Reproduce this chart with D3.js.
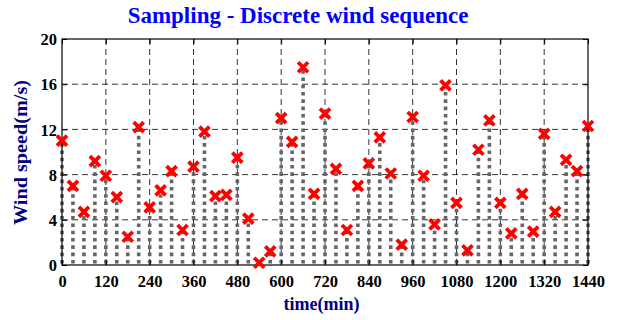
<!DOCTYPE html>
<html><head><meta charset="utf-8">
<script src="https://cdn.jsdelivr.net/npm/d3@7"></script>
<style>body{margin:0;background:#fff}</style>
</head><body>
<svg id="c" width="618" height="320"></svg>
<script>
const times = d3.range(0, 1441, 30);
const windSpeed = [11.0,7.0,4.7,9.2,7.9,6.0,2.5,12.2,5.1,6.6,8.3,3.1,8.7,11.8,6.1,6.2,
  9.5,4.1,0.2,1.2,13.0,10.9,17.5,6.3,13.4,8.5,3.1,7.0,9.0,11.3,8.1,1.8,13.1,7.9,3.6,
  15.9,5.5,1.3,10.2,12.8,5.5,2.8,6.3,2.95,11.6,4.7,9.3,8.3,12.3];
const xTicks = d3.range(0, 1441, 120);
const yTicks = [0,4,8,12,16,20];

const svg = d3.select("#c");
const m = {l:62, r:588, t:39, b:265};
const x = d3.scaleLinear().domain([0,1440]).range([m.l, m.r]);
const y = d3.scaleLinear().domain([0,20]).range([m.b, m.t]);
const serif = "'Liberation Serif','Times New Roman',serif";

// grid
const g = svg.append("g");
g.selectAll(".gx").data(xTicks.slice(1,-1)).join("line")
  .attr("x1",d=>x(d)).attr("x2",d=>x(d)).attr("y1",m.t).attr("y2",m.b)
  .attr("stroke","#000").attr("stroke-width",0.8).attr("stroke-dasharray","6,4");
g.selectAll(".gy").data(yTicks.slice(1,-1)).join("line")
  .attr("x1",m.l).attr("x2",m.r).attr("y1",d=>y(d)).attr("y2",d=>y(d))
  .attr("stroke","#000").attr("stroke-width",0.8).attr("stroke-dasharray","6,4");

// stems
const data = times.map((t,i)=>({t, v:windSpeed[i]}));
svg.append("g").selectAll("line").data(data).join("line")
  .attr("x1",d=>x(d.t)).attr("x2",d=>x(d.t))
  .attr("y1",y(0)-1.5).attr("y2",d=>y(d.v))
  .attr("stroke","#666").attr("stroke-width",3.6).attr("stroke-dasharray","3.6,3.7");

// frame
svg.append("rect").attr("x",m.l).attr("y",m.t).attr("width",m.r-m.l).attr("height",m.b-m.t)
  .attr("fill","none").attr("stroke","#000").attr("stroke-width",1.2);

// axes with inner ticks
const fmt = d3.format("d");
const ax = d3.axisBottom(x).tickValues(xTicks).tickFormat(fmt).tickSize(-5).tickPadding(10).tickSizeOuter(0);
const axg = svg.append("g").attr("transform",`translate(0,${m.b})`).call(ax);
const axt = svg.append("g").attr("transform",`translate(0,${m.t})`).call(d3.axisTop(x).tickValues(xTicks).tickSize(-5).tickFormat("").tickSizeOuter(0));
const ay = d3.axisLeft(y).tickValues(yTicks).tickFormat(fmt).tickSize(-5).tickPadding(5).tickSizeOuter(0);
const ayg = svg.append("g").attr("transform",`translate(${m.l},0)`).call(ay);
const ayr = svg.append("g").attr("transform",`translate(${m.r},0)`).call(d3.axisRight(y).tickValues(yTicks).tickSize(-5).tickFormat("").tickSizeOuter(0));
[axg,axt,ayg,ayr].forEach(a=>{a.select(".domain").remove(); a.selectAll("line").attr("stroke","#000");});
[axg,ayg].forEach(a=>a.selectAll("text").attr("font-family",serif).attr("font-weight","bold").attr("font-size",16.5).attr("fill","#000"));
ayg.selectAll("text").attr("dy","0.35em");

// markers
const s = 5;
const mk = svg.append("g").selectAll("g").data(data).join("g")
  .attr("transform",d=>`translate(${x(d.t)},${y(d.v)})`);
mk.append("path").attr("d",`M${-s},${-s}L${s},${s}M${-s},${s}L${s},${-s}`)
  .attr("stroke","#ff0000").attr("stroke-width",3.8).attr("fill","none");

// title / labels
svg.append("text").attr("x",298).attr("y",23).attr("text-anchor","middle")
  .attr("font-family",serif).attr("font-weight","bold").attr("font-size",23).attr("fill","#0000ff")
  .text("Sampling - Discrete wind sequence");
svg.append("text").attr("x",321.5).attr("y",310).attr("text-anchor","middle")
  .attr("font-family",serif).attr("font-weight","bold").attr("font-size",18).attr("fill","#000080")
  .text("time(min)");
svg.append("text").attr("transform","translate(27,152.5) rotate(-90)").attr("text-anchor","middle")
  .attr("font-family",serif).attr("font-weight","bold").attr("font-size",18).attr("fill","#000080")
  .attr("textLength",145).attr("lengthAdjust","spacingAndGlyphs")
  .text("Wind speed(m/s)");
</script>
</body></html>
